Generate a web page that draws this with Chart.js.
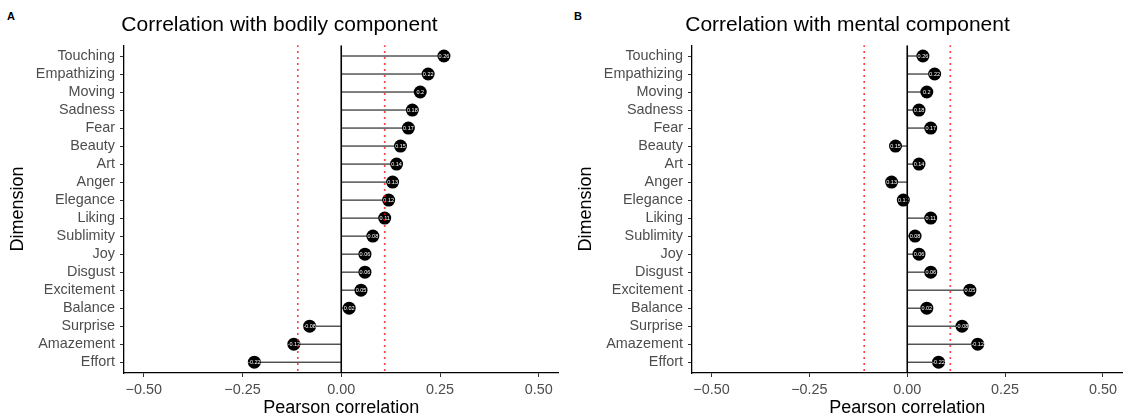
<!DOCTYPE html>
<html>
<head>
<meta charset="utf-8">
<script src="https://cdn.jsdelivr.net/npm/chart.js@4.4.1/dist/chart.umd.min.js"></script>
<style>
  body { margin: 0; background: #fff; width: 1129px; height: 415px; position: relative; overflow: hidden; }
  .wrap { position: absolute; top: 0; height: 415px; }
  .tag { position: absolute; top: 10px; font: bold 11px "Liberation Sans", Arial, sans-serif; color: #000; }
</style>
</head>
<body>
<div class="tag" style="left:7px">A</div>
<div class="tag" style="left:574px">B</div>
<div class="wrap" style="left:0;width:565px"><canvas id="chart"></canvas></div>
<div class="wrap" style="left:568px;width:561px"><canvas id="chart1"></canvas></div>
<script>
const dims = ["Touching", "Empathizing", "Moving", "Sadness", "Fear", "Beauty", "Art", "Anger", "Elegance",
  "Liking", "Sublimity", "Joy", "Disgust", "Excitement", "Balance", "Surprise", "Amazement", "Effort"];
const bodily = [0.26, 0.22, 0.2, 0.18, 0.17, 0.15, 0.14, 0.13, 0.12, 0.11, 0.08, 0.06, 0.06, 0.05, 0.02, -0.08, -0.12, -0.22];
const mental = [0.04, 0.07, 0.05, 0.03, 0.06, -0.03, 0.03, -0.04, -0.01, 0.06, 0.02, 0.03, 0.06, 0.16, 0.05, 0.14, 0.18, 0.08];
// the labels on the dots are the same in both panels
const pointLabels = ["0.26", "0.22", "0.2", "0.18", "0.17", "0.15", "0.14", "0.13", "0.12", "0.11", "0.08", "0.06", "0.06", "0.05", "0.02", "-0.08", "-0.12", "-0.22"];
const xTicks = [-0.5, -0.25, 0, 0.25, 0.5];
const threshold = 0.11;

const FONT = "'Liberation Sans', Arial, Helvetica, sans-serif";
const yMin = -0.6, yMax = dims.length - 1 + 0.6;

const dotLabels = {
  id: "dotLabels",
  afterDatasetDraw(chart, args) {
    if (args.meta._dataset.label !== "points") return;
    const ctx = chart.ctx;
    ctx.save();
    ctx.fillStyle = "#fff";
    ctx.font = "5.5px " + FONT;
    ctx.textAlign = "center";
    ctx.textBaseline = "middle";
    args.meta.data.forEach((pt, i) => {
      ctx.fillText(pointLabels[i], pt.x, pt.y);
    });
    ctx.restore();
  },
};

function vline(x, color, width, dash) {
  return {
    label: "vline",
    data: [{ x: x, y: yMin }, { x: x, y: yMax }],
    showLine: true,
    borderColor: color,
    backgroundColor: color,
    borderWidth: width,
    borderDash: dash,
    borderCapStyle: "butt",
    pointRadius: 0,
    order: 0,
  };
}

function createData(values) {
  let segs = [];
  values.forEach((v, i) => {
    segs.push({ x: 0, y: i }, { x: v, y: i }, { x: null, y: null });
  });
  return {
    datasets: [
      vline(-threshold, "rgb(255,0,0)", 1.6, [1.6, 4.4]),
      vline(threshold, "rgb(255,0,0)", 1.6, [1.6, 4.4]),
      vline(0, "#000", 1.6, []),
      {
        label: "points",
        data: values.map((v, i) => ({ x: v, y: i })),
        pointRadius: 6.5,
        pointBackgroundColor: "#000",
        pointBorderWidth: 0,
        order: 1,
      },
      {
        label: "segments",
        data: segs,
        showLine: true,
        spanGaps: false,
        borderColor: "#000",
        borderWidth: 1,
        pointRadius: 0,
        order: 2,
      },
    ],
  };
}

function makeOptions(title, padRight) {
  return {
    responsive: false,
    animation: false,
    layout: { padding: { left: 0, right: padRight, top: 0, bottom: 0 } },
    plugins: {
      legend: { display: false },
      tooltip: { enabled: false },
      title: {
        display: true,
        text: title,
        color: "#000",
        font: { family: FONT, size: 21, weight: "normal", lineHeight: 1.2 },
        padding: { top: 13, bottom: 7 },
      },
    },
    scales: {
      x: {
        type: "linear",
        min: -0.55,
        max: 0.55,
        afterBuildTicks: (s) => { s.ticks = xTicks.map((v) => ({ value: v })); },
        afterFit: (s) => { s.height = 42; },
        ticks: {
          color: "#4d4d4d",
          font: { family: FONT, size: 14.4 },
          padding: 4,
          maxRotation: 0,
          callback: (v) => (v < 0 ? "\u2212" : "") + Math.abs(v).toFixed(2),
        },
        grid: { drawOnChartArea: false, drawTicks: true, tickLength: 4, color: "#333", lineWidth: 1 },
        border: { display: true, color: "#000", width: 1.3 },
        title: {
          display: true,
          text: "Pearson correlation",
          color: "#000",
          font: { family: FONT, size: 18, lineHeight: 0.8 },
          padding: { top: 0, bottom: 0 },
        },
      },
      y: {
        type: "linear",
        reverse: true,
        min: yMin,
        max: yMax,
        afterBuildTicks: (s) => { s.ticks = dims.map((d, i) => ({ value: i })); },
        afterFit: (s) => { s.width = 124; },
        ticks: {
          color: "#4d4d4d",
          font: { family: FONT, size: 14.4 },
          padding: 5,
          autoSkip: false,
          callback: (v) => dims[v],
        },
        grid: { drawOnChartArea: false, drawTicks: true, tickLength: 4, color: "#333", lineWidth: 1 },
        border: { display: true, color: "#000", width: 1.3 },
        title: {
          display: true,
          text: "Dimension",
          color: "#000",
          font: { family: FONT, size: 18, lineHeight: 1 },
          padding: { top: 9, bottom: 0 },
        },
      },
    },
  };
}

function createChart(id, data, options, w) {
  var el = document.getElementById(id);
  el.width = w;
  el.height = 415;
  var ctx = el.getContext("2d");
  return new Chart(ctx, { type: "scatter", data: data, options: options, plugins: [dotLabels] });
}

var chart = createChart("chart", createData(bodily), makeOptions("Correlation with bodily component", 6), 565);
var chart1 = createChart("chart1", createData(mental), makeOptions("Correlation with mental component", 2), 561);
</script>
</body>
</html>
